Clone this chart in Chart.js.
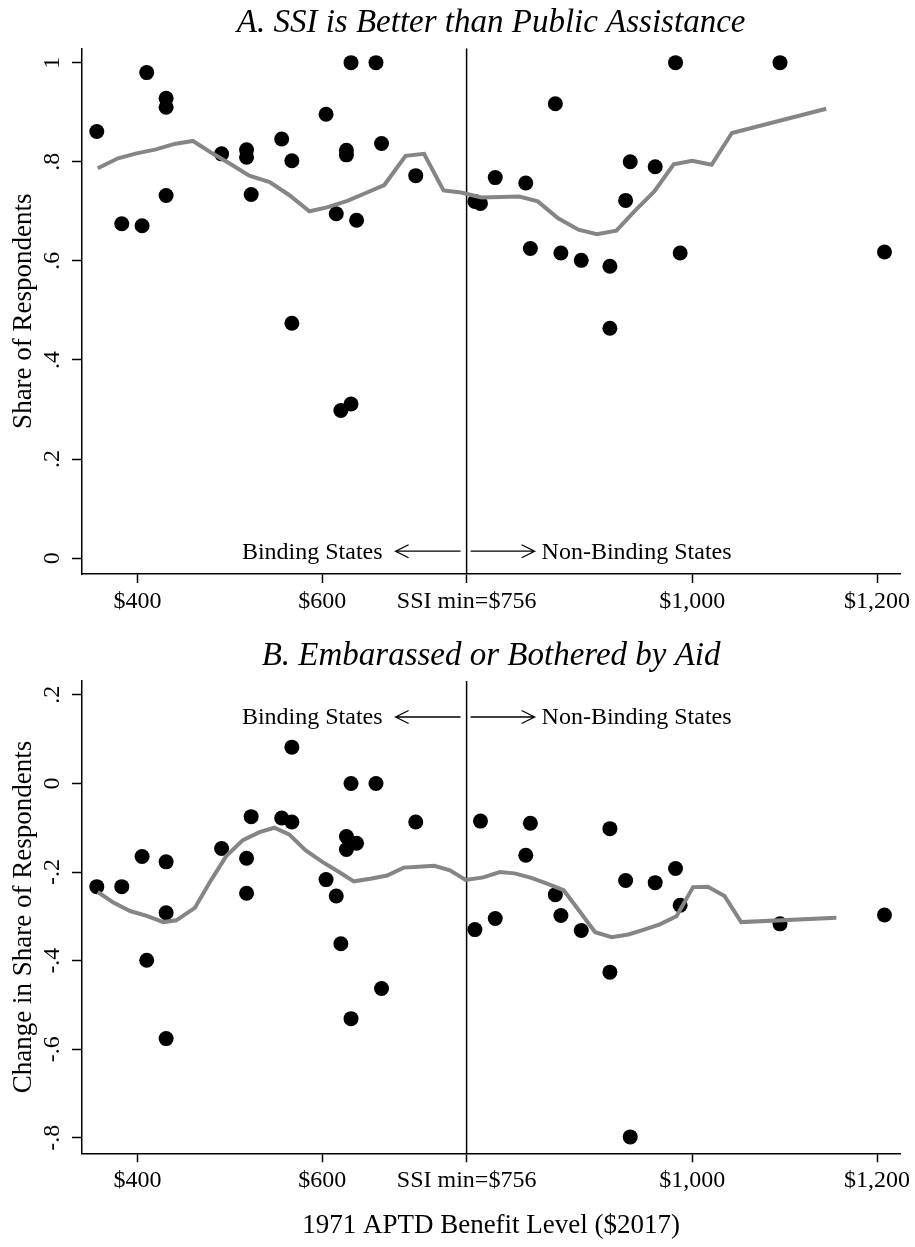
<!DOCTYPE html>
<html>
<head>
<meta charset="utf-8">
<script src="https://cdn.jsdelivr.net/npm/chart.js@4.4.1/dist/chart.umd.min.js"></script>
<style>
  html, body { margin: 0; padding: 0; background: #fff; }
  #wrap { position: relative; width: 915px; height: 1247px; }
  canvas { position: absolute; left: 0; }
</style>
</head>
<body>
<div id="wrap">
  <canvas id="panelA" width="915" height="625" style="top:0"></canvas>
  <canvas id="panelB" width="915" height="622" style="top:625px"></canvas>
</div>
<script>
// 1971 APTD benefit level per state ($2017), shared by both panels
const benefit = [356, 383, 405, 410, 431, 431, 431, 491, 518, 518, 523, 556, 567, 567, 604, 615, 620, 626, 626, 631, 631, 637, 658, 664, 701,
                 765, 771, 787, 820, 825, 852, 858, 880, 911, 911, 928, 933, 960, 982, 987, 1095, 1208];
// panel A: share saying SSI is better than public assistance
const shareBetter = [0.861, 0.675, 0.671, 0.980, 0.928, 0.910, 0.732, 0.816, 0.824, 0.809, 0.734, 0.846, 0.802, 0.474, 0.896, 0.695, 0.298, 0.823, 0.814, 1.0, 0.311, 0.682, 1.0, 0.837, 0.772,
                     0.720, 0.716, 0.768, 0.757, 0.625, 0.917, 0.616, 0.601, 0.589, 0.464, 0.722, 0.800, 0.790, 1.0, 0.616, 1.0, 0.618];
// panel B: change in share embarassed or bothered by aid
const changeEmb = [-0.233, -0.233, -0.165, -0.399, -0.177, -0.292, -0.576, -0.147, -0.169, -0.248, -0.075, -0.078, -0.087, 0.082, -0.217, -0.254, -0.362, -0.120, -0.149, 0, -0.531, -0.135, 0, -0.463, -0.087,
                   -0.330, -0.085, -0.305, -0.162, -0.090, -0.251, -0.298, -0.332, -0.102, -0.426, -0.219, -0.798, -0.224, -0.192, -0.275, -0.317, -0.297];

// smoothed fits
const fitAx = [357, 379, 399, 420, 440, 460, 481, 501, 521, 543, 564, 586, 605, 627, 647, 667, 690, 710, 731, 750,
               772, 793, 813, 833, 855, 877, 897, 918, 938, 959, 980, 1000, 1021, 1043, 1145];
const fitAy = [0.787, 0.807, 0.817, 0.825, 0.836, 0.842, 0.817, 0.795, 0.772, 0.759, 0.733, 0.700, 0.708, 0.721, 0.737, 0.753, 0.812, 0.816, 0.742, 0.738,
               0.728, 0.729, 0.730, 0.720, 0.686, 0.663, 0.654, 0.661, 0.701, 0.740, 0.795, 0.802, 0.794, 0.858, 0.907];
const fitBx = [357, 374, 392, 410, 428, 442, 462, 480, 496, 514, 532, 548, 564, 582, 600, 618, 634, 652, 670, 688, 704, 721, 738, 755,
               774, 792, 808, 826, 843, 861, 878, 895, 913, 931, 948, 965, 983, 1001, 1017, 1035, 1053, 1156];
const fitBy = [-0.245, -0.269, -0.288, -0.299, -0.313, -0.309, -0.281, -0.217, -0.164, -0.128, -0.110, -0.100, -0.115, -0.151, -0.177, -0.200, -0.221, -0.215, -0.208, -0.190, -0.188, -0.186, -0.196, -0.218,
               -0.212, -0.200, -0.203, -0.213, -0.226, -0.241, -0.288, -0.336, -0.347, -0.341, -0.330, -0.318, -0.300, -0.234, -0.233, -0.254, -0.313, -0.303];

const ssiMin = 756;
const xTicks = [400, 600, 756, 1000, 1200];
const xTickLabels = ['$400', '$600', 'SSI min=$756', '$1,000', '$1,200'];
const yTicksA = [0, 0.2, 0.4, 0.6, 0.8, 1];
const yLabelsA = ['0', '.2', '.4', '.6', '.8', '1'];
const yTicksB = [-0.8, -0.6, -0.4, -0.2, 0, 0.2];
const yLabelsB = ['-.8', '-.6', '-.4', '-.2', '0', '.2'];
const sideLabels = ['Binding States', 'Non-Binding States'];

const serif = '"Liberation Serif", "Times New Roman", serif';
Chart.defaults.font.family = serif;
Chart.defaults.color = '#000';

// arrows + "Binding / Non-Binding States" either side of the SSI minimum
const sidesPlugin = {
    id: 'sides',
    afterDatasetsDraw(chart, args, opts) {
        const ctx = chart.ctx;
        const vx = chart.scales.x.getPixelForValue(ssiMin);
        const ay = chart.scales.y.getPixelForValue(opts.y);
        ctx.save();
        ctx.strokeStyle = '#000';
        ctx.lineWidth = 1.3;
        ctx.beginPath();
        ctx.moveTo(vx - 6, ay); ctx.lineTo(vx - 71, ay);
        ctx.moveTo(vx - 58, ay - 6.5); ctx.lineTo(vx - 71, ay); ctx.lineTo(vx - 58, ay + 6.5);
        ctx.moveTo(vx + 4, ay); ctx.lineTo(vx + 68, ay);
        ctx.moveTo(vx + 55, ay - 6.5); ctx.lineTo(vx + 68, ay); ctx.lineTo(vx + 55, ay + 6.5);
        ctx.stroke();
        ctx.fillStyle = '#000';
        ctx.font = '24px ' + serif;
        ctx.textBaseline = 'middle';
        ctx.textAlign = 'right';
        ctx.fillText(sideLabels[0], vx - 84, ay + 1);
        ctx.textAlign = 'left';
        ctx.fillText(sideLabels[1], vx + 75, ay + 1);
        ctx.restore();
    }
};

function makePanel(id, p) {
    const pts = benefit.map((x, i) => ({ x: x, y: p.values[i] }));
    const fit = p.fitX.map((x, i) => ({ x: x, y: p.fitY[i] }));
    return new Chart(document.getElementById(id), {
        type: 'scatter',
        data: {
            datasets: [
                { type: 'line', data: fit, borderColor: '#858585', borderWidth: 4, pointRadius: 0, fill: false, tension: 0, order: 0 },
                { data: pts, pointBackgroundColor: '#000', pointBorderColor: '#000', pointBorderWidth: 0, pointRadius: 7.5, clip: false, order: 1 },
                { type: 'line', data: [{ x: ssiMin, y: p.yMin }, { x: ssiMin, y: p.yMax }], borderColor: '#000', borderWidth: 1.5, pointRadius: 0, order: 2 }
            ]
        },
        options: {
            responsive: false,
            animation: false,
            layout: { padding: { left: 0, right: 11.7, top: 0, bottom: 0 }, autoPadding: false },
            plugins: {
                legend: { display: false },
                tooltip: { enabled: false },
                title: {
                    display: true, text: p.title, fullSize: false, color: '#000',
                    font: { size: 33, style: 'italic', weight: 'normal' },
                    padding: { top: p.titlePad[0], bottom: p.titlePad[1] }
                },
                sides: { y: p.arrowY }
            },
            scales: {
                x: {
                    type: 'linear', min: 340, max: 1225,
                    afterFit: s => { s.height = p.xHeight; },
                    afterBuildTicks: s => { s.ticks = xTicks.map(v => ({ value: v })); },
                    ticks: { autoSkip: false, maxRotation: 0, padding: 4.5, font: { size: 24 }, callback: (v, i) => xTickLabels[i] },
                    grid: { drawOnChartArea: false, tickLength: 9, tickColor: '#000', tickWidth: 1.5 },
                    border: { color: '#000', width: 1.5 },
                    title: { display: !!p.xTitle, text: p.xTitle, font: { size: 27 }, padding: { top: 0, bottom: 4.8 } }
                },
                y: {
                    type: 'linear', min: p.yMin, max: p.yMax,
                    afterFit: s => { s.width = 82; },
                    afterBuildTicks: s => { s.ticks = p.yTicks.map(v => ({ value: v })); },
                    ticks: { autoSkip: false, minRotation: 90, maxRotation: 90, crossAlign: 'center', padding: p.yTickPad,
                             font: { size: 24 }, callback: (v, i) => p.yLabels[i] },
                    grid: { drawOnChartArea: false, tickLength: 10, tickColor: '#000', tickWidth: 1.5 },
                    border: { color: '#000', width: 1.5 },
                    title: { display: true, text: p.yTitle, font: { size: 27 }, padding: { top: 8, bottom: 0 } }
                }
            }
        },
        plugins: [sidesPlugin]
    });
}

makePanel('panelA', {
    title: 'A. SSI is Better than Public Assistance',
    values: shareBetter, fitX: fitAx, fitY: fitAy,
    yMin: -0.032, yMax: 1.029, yTicks: yTicksA, yLabels: yLabelsA, yTickPad: 10.4,
    yTitle: 'Share of Respondents', xTitle: '',
    titlePad: [4, 4.7], xHeight: 51, arrowY: 0.014
});

makePanel('panelB', {
    title: 'B. Embarassed or Bothered by Aid',
    values: changeEmb, fitX: fitBx, fitY: fitBy,
    yMin: -0.835, yMax: 0.232, yTicks: yTicksB, yLabels: yLabelsB, yTickPad: 6.4,
    yTitle: 'Change in Share of Respondents', xTitle: '1971 APTD Benefit Level ($2017)',
    titlePad: [11.1, 5], xHeight: 93.7, arrowY: 0.15
});
</script>
</body>
</html>
